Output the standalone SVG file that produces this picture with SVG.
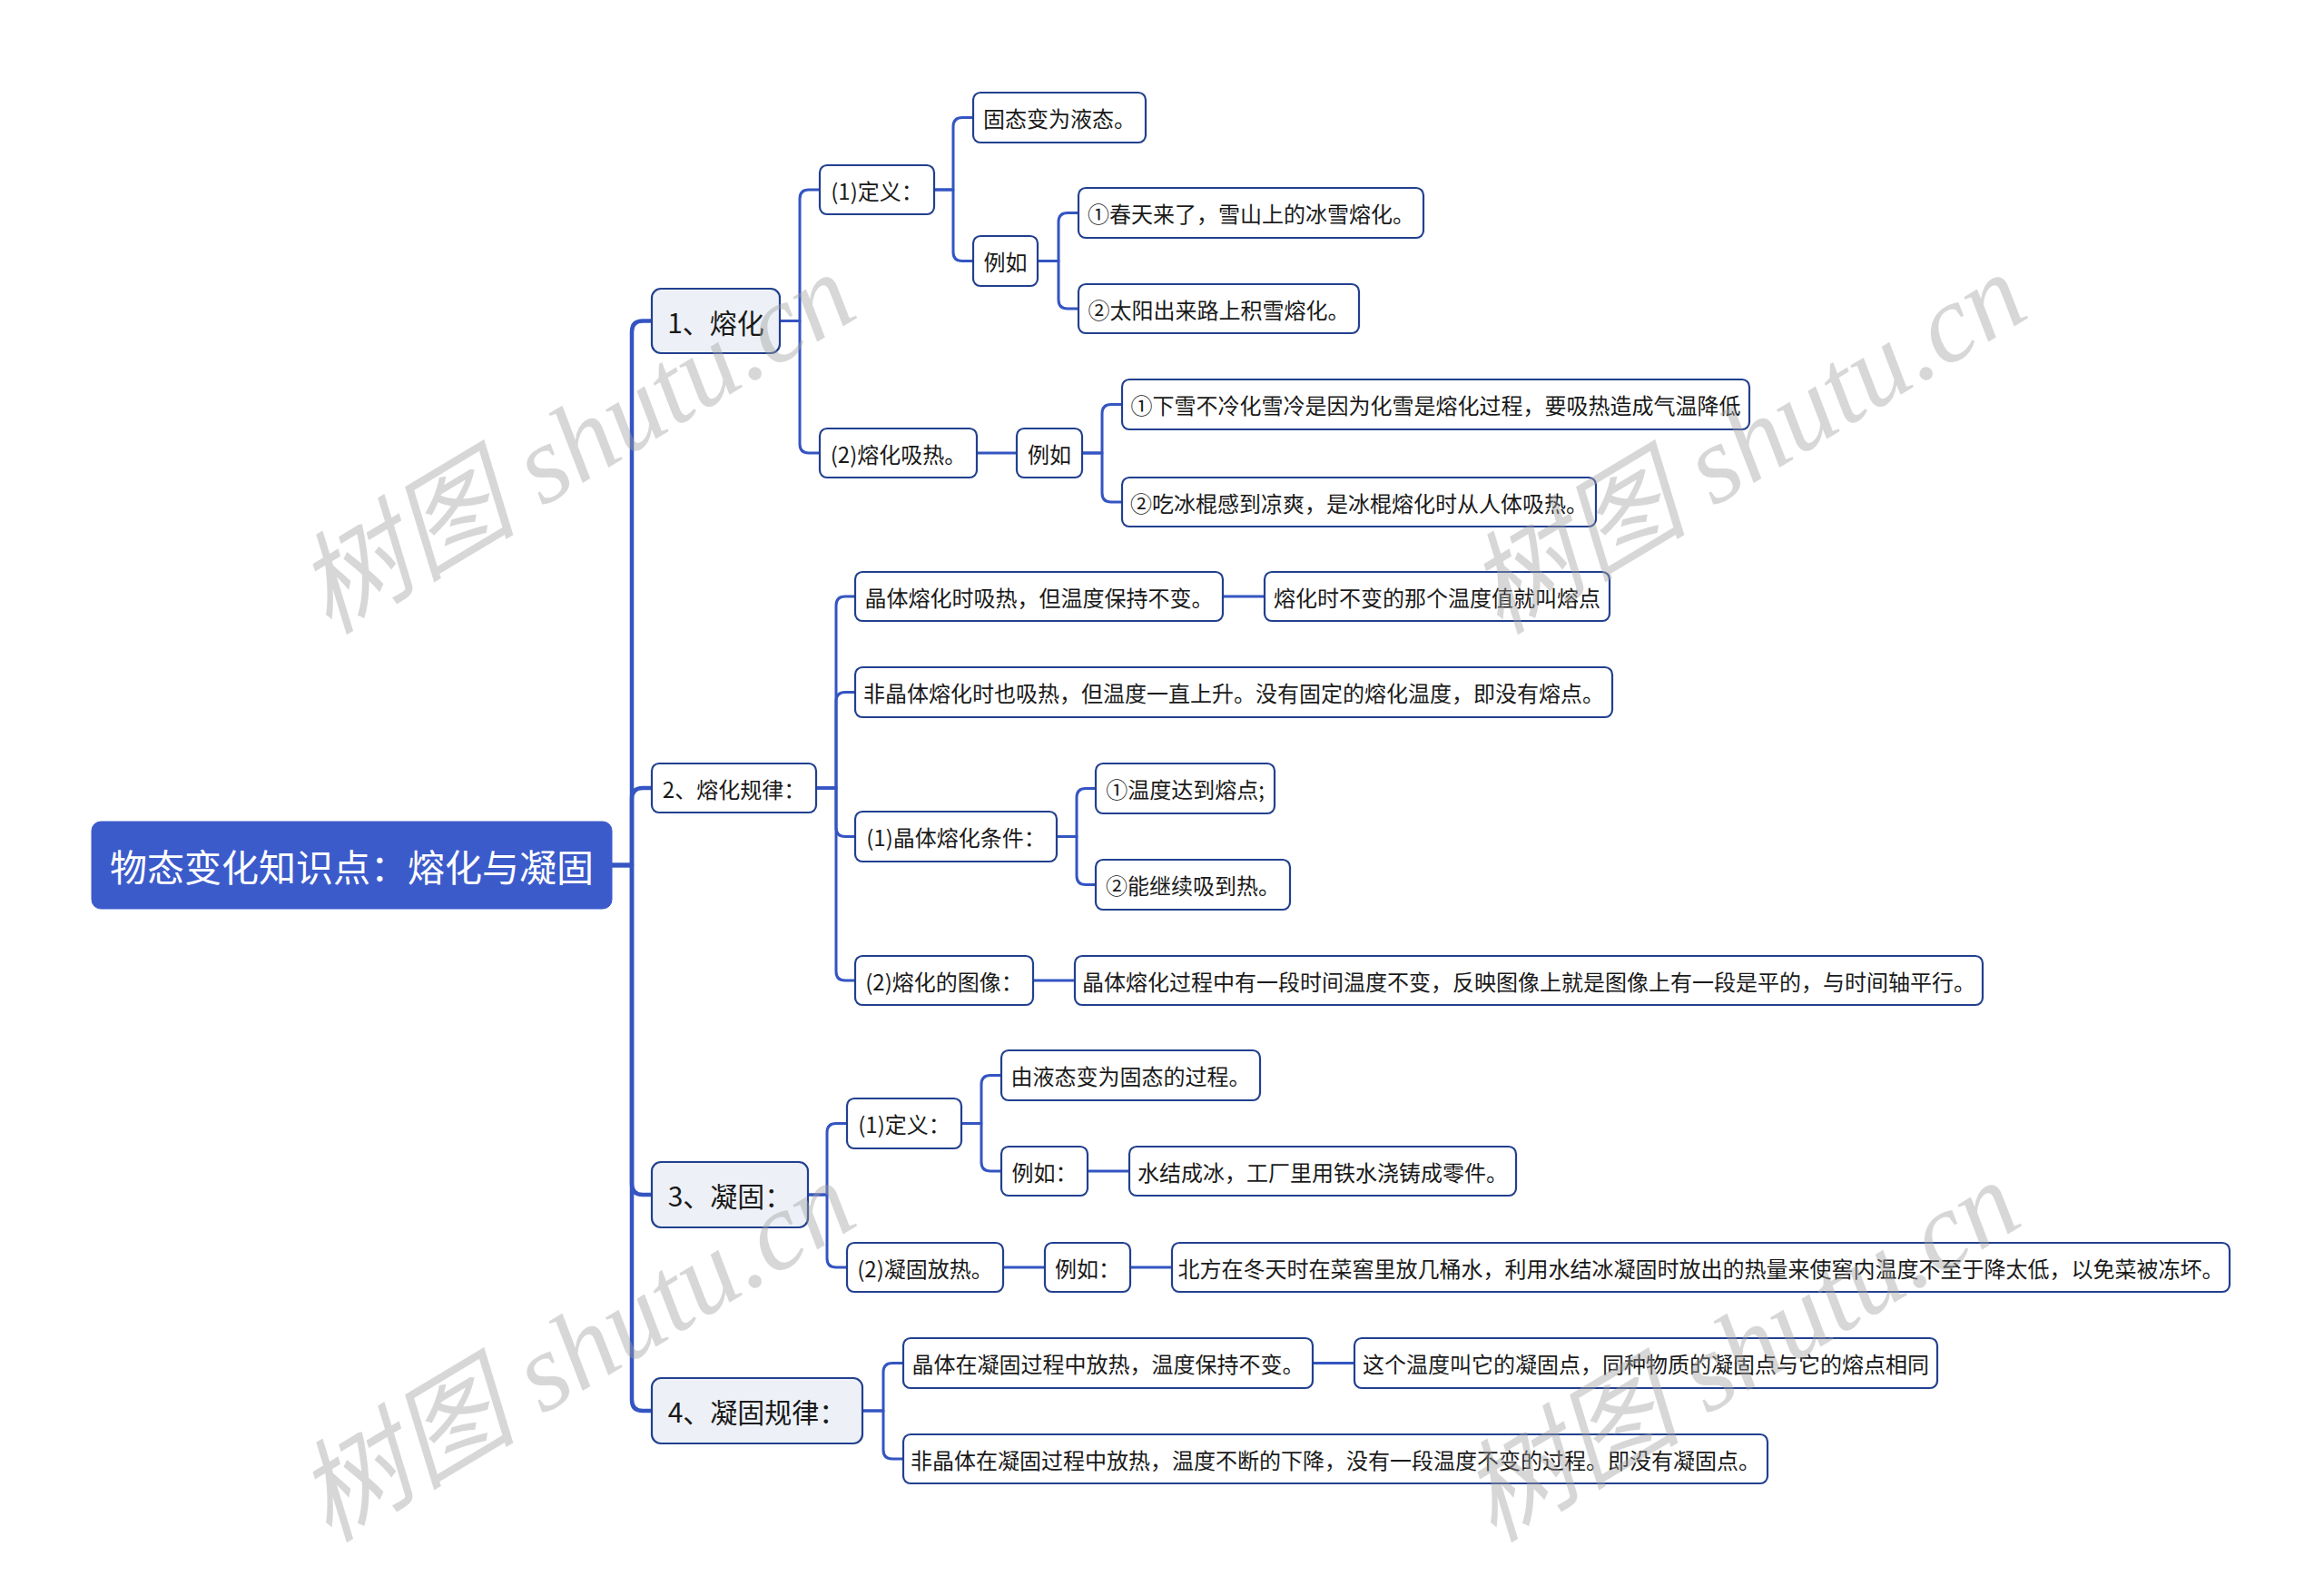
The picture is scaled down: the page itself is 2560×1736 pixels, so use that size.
<svg xmlns="http://www.w3.org/2000/svg" width="2560" height="1736" viewBox="0 0 2560 1736">
<style>
.bg{fill:#ffffff}
.box{fill:#ffffff;stroke:#22408f;stroke-width:2.2}
.l1{fill:#edf1f7;stroke:#22408f;stroke-width:2.2}
.root{fill:#3c5bcb;stroke:#3c5bcb;stroke-width:1}
.t{font-family:"Noto Sans CJK SC","Noto Sans",sans-serif;font-size:24px;fill:#1a1a1a;text-anchor:middle;dominant-baseline:central}
.t1{font-size:30px}
.tr{font-size:41px;fill:#ffffff}
.c{fill:none;stroke:#3455c2;stroke-width:3;stroke-linejoin:round}
.c0{stroke-width:4.5}
.wm{font-family:"Liberation Serif","Noto Sans CJK SC",serif;font-style:italic;font-size:122px;fill:#a0a0a0;fill-opacity:0.42}
</style>
<rect class="bg" x="0" y="0" width="2560" height="1736"/>
<g id="connectors">
<path class="c c0" d="M674 953 H696 V365.5 Q696 353.5 708 353.5 H718"/>
<path class="c c0" d="M674 953 H696 V880 Q696 868 708 868 H718"/>
<path class="c c0" d="M674 953 H696 V1304 Q696 1316 708 1316 H718"/>
<path class="c c0" d="M674 953 H696 V1542 Q696 1554 708 1554 H718"/>
<path class="c" d="M859 353.5 H881 V219 Q881 209 891 209 H903"/>
<path class="c" d="M859 353.5 H881 V489 Q881 499 891 499 H903"/>
<path class="c" d="M1029 209 H1050 V139.5 Q1050 129.5 1060 129.5 H1072"/>
<path class="c" d="M1029 209 H1050 V277.5 Q1050 287.5 1060 287.5 H1072"/>
<path class="c" d="M1143 287.5 H1166 V244.5 Q1166 234.5 1176 234.5 H1188"/>
<path class="c" d="M1143 287.5 H1166 V330 Q1166 340 1176 340 H1188"/>
<path class="c" d="M1076 499 H1120"/>
<path class="c" d="M1192 499 H1214 V455.5 Q1214 445.5 1224 445.5 H1236"/>
<path class="c" d="M1192 499 H1214 V543 Q1214 553 1224 553 H1236"/>
<path class="c" d="M899 868 H921 V667 Q921 657 931 657 H942"/>
<path class="c" d="M899 868 H921 V772.5 Q921 762.5 931 762.5 H942"/>
<path class="c" d="M899 868 H921 V911.5 Q921 921.5 931 921.5 H942"/>
<path class="c" d="M899 868 H921 V1070 Q921 1080 931 1080 H942"/>
<path class="c" d="M1347 657 H1393"/>
<path class="c" d="M1164 921.5 H1186 V878.5 Q1186 868.5 1196 868.5 H1207"/>
<path class="c" d="M1164 921.5 H1186 V964.5 Q1186 974.5 1196 974.5 H1207"/>
<path class="c" d="M1138 1080 H1184"/>
<path class="c" d="M890 1316 H911 V1247.5 Q911 1237.5 921 1237.5 H933"/>
<path class="c" d="M890 1316 H911 V1386 Q911 1396 921 1396 H933"/>
<path class="c" d="M1059 1237.5 H1081 V1194.5 Q1081 1184.5 1091 1184.5 H1103"/>
<path class="c" d="M1059 1237.5 H1081 V1280 Q1081 1290 1091 1290 H1103"/>
<path class="c" d="M1198 1290 H1244"/>
<path class="c" d="M1105 1396 H1151"/>
<path class="c" d="M1245 1396 H1291"/>
<path class="c" d="M950 1554 H973 V1511.5 Q973 1501.5 983 1501.5 H995"/>
<path class="c" d="M950 1554 H973 V1597 Q973 1607 983 1607 H995"/>
<path class="c" d="M1446 1501.5 H1492"/>
</g>
<g id="root"><rect class="root" x="101" y="905" width="573" height="96" rx="10"/><text class="t tr" x="387.5" y="953">物态变化知识点：熔化与凝固</text></g>
<g id="n1"><rect class="l1" x="718" y="318" width="141" height="71" rx="10"/><text class="t t1" x="788.5" y="353.5">1、熔化</text></g>
<g id="n2"><rect class="box" x="718" y="841" width="181" height="54" rx="8"/><text class="t" x="808.5" y="868">2、熔化规律：</text></g>
<g id="n3"><rect class="l1" x="718" y="1280" width="172" height="72" rx="10"/><text class="t t1" x="804" y="1316">3、凝固：</text></g>
<g id="n4"><rect class="l1" x="718" y="1518" width="232" height="72" rx="10"/><text class="t t1" x="834" y="1554">4、凝固规律：</text></g>
<g id="n1-1"><rect class="box" x="903" y="182" width="126" height="54" rx="8"/><text class="t" x="966" y="209">(1)定义：</text></g>
<g id="n1-2"><rect class="box" x="903" y="472" width="173" height="54" rx="8"/><text class="t" x="989.5" y="499">(2)熔化吸热。</text></g>
<g id="n1-1-1"><rect class="box" x="1072" y="102" width="190" height="55" rx="8"/><text class="t" x="1167" y="129.5">固态变为液态。</text></g>
<g id="n1-1-2"><rect class="box" x="1072" y="260" width="71" height="55" rx="8"/><text class="t" x="1107.5" y="287.5">例如</text></g>
<g id="n1-1-2-1"><rect class="box" x="1188" y="207" width="380" height="55" rx="8"/><text class="t" x="1378" y="234.5">①春天来了，雪山上的冰雪熔化。</text></g>
<g id="n1-1-2-2"><rect class="box" x="1188" y="313" width="309" height="54" rx="8"/><text class="t" x="1342.5" y="340">②太阳出来路上积雪熔化。</text></g>
<g id="n1-2-1"><rect class="box" x="1120" y="472" width="72" height="54" rx="8"/><text class="t" x="1156" y="499">例如</text></g>
<g id="n1-2-1-1"><rect class="box" x="1236" y="418" width="691" height="55" rx="8"/><text class="t" x="1581.5" y="445.5">①下雪不冷化雪冷是因为化雪是熔化过程，要吸热造成气温降低</text></g>
<g id="n1-2-1-2"><rect class="box" x="1236" y="526" width="522" height="54" rx="8"/><text class="t" x="1497" y="553">②吃冰棍感到凉爽，是冰棍熔化时从人体吸热。</text></g>
<g id="n2-1"><rect class="box" x="942" y="630" width="405" height="54" rx="8"/><text class="t" x="1144.5" y="657">晶体熔化时吸热，但温度保持不变。</text></g>
<g id="n2-1-1"><rect class="box" x="1393" y="630" width="380" height="54" rx="8"/><text class="t" x="1583" y="657">熔化时不变的那个温度值就叫熔点</text></g>
<g id="n2-2"><rect class="box" x="942" y="735" width="834" height="55" rx="8"/><text class="t" x="1359" y="762.5">非晶体熔化时也吸热，但温度一直上升。没有固定的熔化温度，即没有熔点。</text></g>
<g id="n2-3"><rect class="box" x="942" y="894" width="222" height="55" rx="8"/><text class="t" x="1053" y="921.5">(1)晶体熔化条件：</text></g>
<g id="n2-3-1"><rect class="box" x="1207" y="841" width="197" height="55" rx="8"/><text class="t" x="1305.5" y="868.5">①温度达到熔点;</text></g>
<g id="n2-3-2"><rect class="box" x="1207" y="947" width="214" height="55" rx="8"/><text class="t" x="1314" y="974.5">②能继续吸到热。</text></g>
<g id="n2-4"><rect class="box" x="942" y="1053" width="196" height="54" rx="8"/><text class="t" x="1040" y="1080">(2)熔化的图像：</text></g>
<g id="n2-4-1"><rect class="box" x="1184" y="1053" width="1000" height="54" rx="8"/><text class="t" x="1684" y="1080">晶体熔化过程中有一段时间温度不变，反映图像上就是图像上有一段是平的，与时间轴平行。</text></g>
<g id="n3-1"><rect class="box" x="933" y="1210" width="126" height="55" rx="8"/><text class="t" x="996" y="1237.5">(1)定义：</text></g>
<g id="n3-1-1"><rect class="box" x="1103" y="1157" width="285" height="55" rx="8"/><text class="t" x="1245.5" y="1184.5">由液态变为固态的过程。</text></g>
<g id="n3-1-2"><rect class="box" x="1103" y="1263" width="95" height="54" rx="8"/><text class="t" x="1150.5" y="1290">例如：</text></g>
<g id="n3-1-2-1"><rect class="box" x="1244" y="1263" width="426" height="54" rx="8"/><text class="t" x="1457" y="1290">水结成冰，工厂里用铁水浇铸成零件。</text></g>
<g id="n3-2"><rect class="box" x="933" y="1369" width="172" height="54" rx="8"/><text class="t" x="1019" y="1396">(2)凝固放热。</text></g>
<g id="n3-2-1"><rect class="box" x="1151" y="1369" width="94" height="54" rx="8"/><text class="t" x="1198" y="1396">例如：</text></g>
<g id="n3-2-1-1"><rect class="box" x="1291" y="1369" width="1165" height="54" rx="8"/><text class="t" x="1873.5" y="1396">北方在冬天时在菜窖里放几桶水，利用水结冰凝固时放出的热量来使窖内温度不至于降太低，以免菜被冻坏。</text></g>
<g id="n4-1"><rect class="box" x="995" y="1474" width="451" height="55" rx="8"/><text class="t" x="1220.5" y="1501.5">晶体在凝固过程中放热，温度保持不变。</text></g>
<g id="n4-1-1"><rect class="box" x="1492" y="1474" width="642" height="55" rx="8"/><text class="t" x="1813" y="1501.5">这个温度叫它的凝固点，同种物质的凝固点与它的熔点相同</text></g>
<g id="n4-2"><rect class="box" x="995" y="1580" width="952" height="54" rx="8"/><text class="t" x="1471" y="1607">非晶体在凝固过程中放热，温度不断的下降，没有一段温度不变的过程。即没有凝固点。</text></g>
<g id="watermarks">
<text class="wm" transform="translate(362 700) rotate(-31)">树图 shutu.cn</text>
<text class="wm" transform="translate(1652 700) rotate(-31)">树图 shutu.cn</text>
<text class="wm" transform="translate(362 1700) rotate(-31)">树图 shutu.cn</text>
<text class="wm" transform="translate(1645 1700) rotate(-31)">树图 shutu.cn</text>
</g>
</svg>
